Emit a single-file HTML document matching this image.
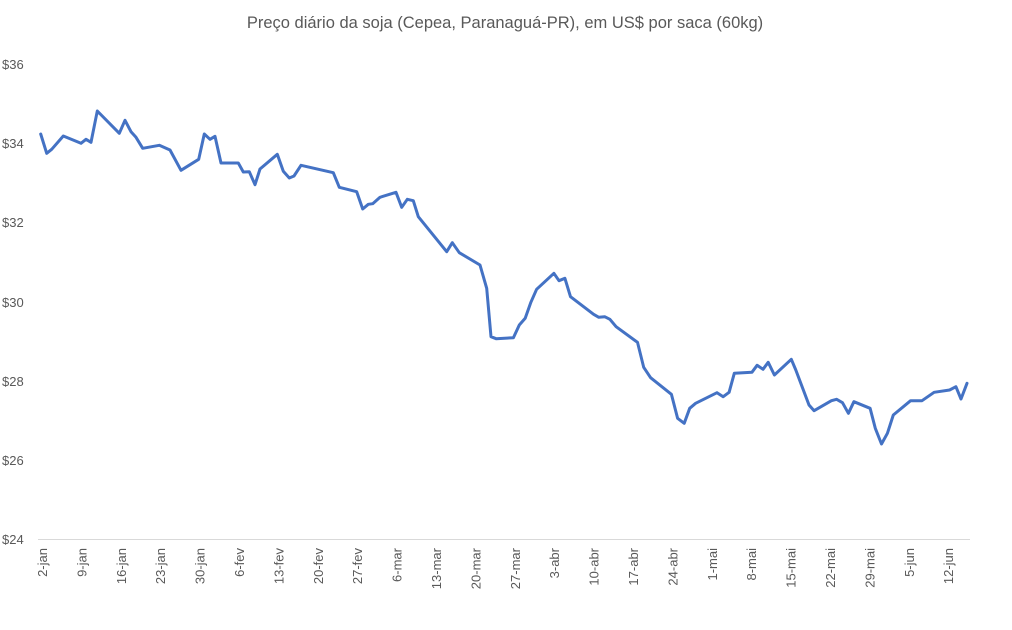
<!DOCTYPE html>
<html><head><meta charset="utf-8"><style>
html,body{margin:0;padding:0;background:#fff;}
svg{display:block;font-family:"Liberation Sans",Calibri,sans-serif;}
</style></head><body>
<svg width="1012" height="630" viewBox="0 0 1012 630" xmlns="http://www.w3.org/2000/svg">
<rect width="1012" height="630" fill="#fff"/>
<text x="505" y="28" text-anchor="middle" font-size="16.5" fill="#595959">Preço diário da soja (Cepea, Paranaguá-PR), em US$ por saca (60kg)</text>
<g font-size="13" fill="#595959">
<text x="2" y="69">$36</text>
<text x="2" y="148">$34</text>
<text x="2" y="227">$32</text>
<text x="2" y="307">$30</text>
<text x="2" y="386">$28</text>
<text x="2" y="465">$26</text>
<text x="2" y="544">$24</text>
</g>
<line x1="38" y1="539.5" x2="970" y2="539.5" stroke="#d9d9d9" stroke-width="1"/>
<g font-size="13" fill="#595959" text-anchor="end">
<text transform="translate(47,548) rotate(-90)">2-jan</text>
<text transform="translate(86.4,548) rotate(-90)">9-jan</text>
<text transform="translate(125.8,548) rotate(-90)">16-jan</text>
<text transform="translate(165.2,548) rotate(-90)">23-jan</text>
<text transform="translate(204.6,548) rotate(-90)">30-jan</text>
<text transform="translate(244,548) rotate(-90)">6-fev</text>
<text transform="translate(283.4,548) rotate(-90)">13-fev</text>
<text transform="translate(322.8,548) rotate(-90)">20-fev</text>
<text transform="translate(362.2,548) rotate(-90)">27-fev</text>
<text transform="translate(401.6,548) rotate(-90)">6-mar</text>
<text transform="translate(441,548) rotate(-90)">13-mar</text>
<text transform="translate(480.4,548) rotate(-90)">20-mar</text>
<text transform="translate(519.8,548) rotate(-90)">27-mar</text>
<text transform="translate(559.2,548) rotate(-90)">3-abr</text>
<text transform="translate(598.6,548) rotate(-90)">10-abr</text>
<text transform="translate(638,548) rotate(-90)">17-abr</text>
<text transform="translate(677.4,548) rotate(-90)">24-abr</text>
<text transform="translate(716.8,548) rotate(-90)">1-mai</text>
<text transform="translate(756.2,548) rotate(-90)">8-mai</text>
<text transform="translate(795.6,548) rotate(-90)">15-mai</text>
<text transform="translate(835,548) rotate(-90)">22-mai</text>
<text transform="translate(874.4,548) rotate(-90)">29-mai</text>
<text transform="translate(913.8,548) rotate(-90)">5-jun</text>
<text transform="translate(953.2,548) rotate(-90)">12-jun</text>
</g>
<polyline fill="none" stroke="#4472C4" stroke-width="3" stroke-linejoin="round" stroke-linecap="round" points="
40.7,134 46.7,153.3 51.7,149.3 63.3,136 81,143.3 86,139.3 91,142.3 97.3,111 119.3,133.3 125,120.3 131,131.7 136,137.3 142.7,148.3 159.3,145.3 170,150 181,170.3 198.7,159.3 204.3,134 210,139.3 215,136.3 221,163 238.3,163 243.3,172 249.3,171.7 255,184.7 260,169 277.3,154.3 283.3,171.3 289.3,178 294,176 301,165.3 333.3,172.7 339.3,187.3 356.7,191.7 362.7,209 368.3,204.3 372.7,203.7 380,197.3 396,192.3 401.7,207.3 407.3,199.3 413.3,200.7 418.3,216.7 446.7,251.7 452.3,242.7 459.3,252.7 480,265 486.7,288.3
491,336.7 496.1,338.7 513.4,337.7 519.3,325 525.2,318.3 530.7,302.7 536.6,289.3 553.9,273.3 559,280.7 564.9,278.3 570.5,296.7 593.6,314.3 598.8,317.3 604.7,316.7 609.9,319.3 616.1,326.7 637.5,342.3 643.7,367.3 650.6,377.7 671.4,394.3 677.6,418.3 684.2,423.3 689.7,408.3 695.6,403.3 717,392.7 723.2,396.7 729.1,392.3 734.3,373.3 751.9,372.3 757.1,365.3 763,369.3 768.2,362.3 774.4,375 791.3,359.3 795.8,370 809,405 814.1,410.7 831.4,400.7 836.6,399.3 842.5,402.7 848.4,413.3 853.9,401.7 870.1,408.3 875.3,428.3 881.5,444 887.4,433.3 893.3,415 910.6,400.7 922,400.7 934.1,392.3 949.6,390 955.9,386.7 961,399 967,383.3"/>
</svg>
</body></html>
